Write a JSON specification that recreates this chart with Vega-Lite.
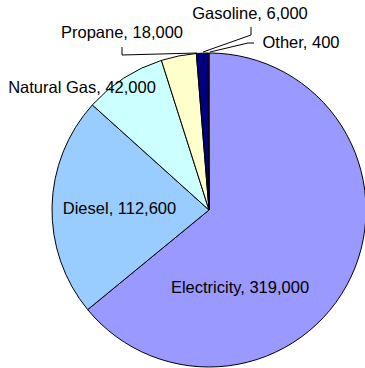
{
  "$schema": "https://vega.github.io/schema/vega-lite/v6.json",
  "width": 365,
  "height": 368,
  "padding": 0,
  "autosize": {"type": "none"},
  "background": "white",
  "config": {"view": {"stroke": null}},
  "layer": [
    {
      "data": {"values": [
        {"fuel": "Electricity", "value": 319000, "rank": 1},
        {"fuel": "Diesel", "value": 112600, "rank": 2},
        {"fuel": "Natural Gas", "value": 42000, "rank": 3},
        {"fuel": "Propane", "value": 18000, "rank": 4},
        {"fuel": "Gasoline", "value": 6000, "rank": 5},
        {"fuel": "Other", "value": 400, "rank": 6}
      ]},
      "mark": {"type": "arc", "outerRadius": 157, "stroke": "black", "strokeWidth": 1},
      "encoding": {
        "x": {"datum": 0, "type": "quantitative", "scale": {"domain": [-209, 156], "nice": false, "zero": false}, "axis": null},
        "y": {"datum": 0, "type": "quantitative", "scale": {"domain": [-158, 210], "nice": false, "zero": false}, "axis": null},
        "theta": {"field": "value", "type": "quantitative", "stack": true},
        "order": {"field": "rank", "type": "quantitative", "sort": "ascending"},
        "color": {"field": "fuel", "type": "nominal", "legend": null,
          "scale": {"domain": ["Electricity", "Diesel", "Natural Gas", "Propane", "Gasoline", "Other"],
                    "range": ["#9999FF", "#99CCFF", "#CCFFFF", "#FFFFCC", "#000080", "#FF00FF"]}}
      }
    },
    {
      "data": {"values": [
        {"id": "Propane", "seq": 1, "x": -87, "y": 163},
        {"id": "Propane", "seq": 2, "x": -87, "y": 155},
        {"id": "Propane", "seq": 3, "x": -12, "y": 157},
        {"id": "Gasoline", "seq": 1, "x": 42, "y": 183},
        {"id": "Gasoline", "seq": 2, "x": 42, "y": 175},
        {"id": "Gasoline", "seq": 3, "x": -6, "y": 158},
        {"id": "Other", "seq": 1, "x": 45, "y": 167},
        {"id": "Other", "seq": 2, "x": 39, "y": 167},
        {"id": "Other", "seq": 3, "x": 1, "y": 158}
      ]},
      "mark": {"type": "line", "color": "black", "strokeWidth": 1},
      "encoding": {
        "x": {"field": "x", "type": "quantitative"},
        "y": {"field": "y", "type": "quantitative"},
        "detail": {"field": "id"},
        "order": {"field": "seq", "type": "quantitative"}
      }
    },
    {
      "data": {"values": [
        {"label": "Electricity, 319,000", "x": 31, "y": -78},
        {"label": "Diesel, 112,600", "x": -89.5, "y": 1.5},
        {"label": "Natural Gas, 42,000", "x": -127, "y": 122},
        {"label": "Propane, 18,000", "x": -87, "y": 177},
        {"label": "Gasoline, 6,000", "x": 41, "y": 196},
        {"label": "Other, 400", "x": 92, "y": 167}
      ]},
      "mark": {"type": "text", "font": "Liberation Sans", "fontSize": 16.5, "color": "black", "align": "center", "baseline": "middle"},
      "encoding": {
        "x": {"field": "x", "type": "quantitative"},
        "y": {"field": "y", "type": "quantitative"},
        "text": {"field": "label"}
      }
    }
  ]
}
